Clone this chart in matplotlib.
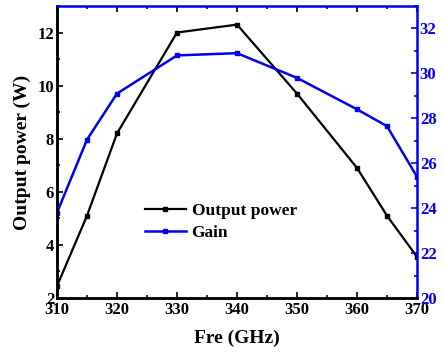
import matplotlib
matplotlib.use("Agg")
import matplotlib.pyplot as plt
from matplotlib.ticker import MultipleLocator

freq = [310, 315, 320, 330, 340, 350, 360, 365, 370]
output_power = [2.45, 5.1, 8.2, 12.0, 12.3, 9.7, 6.9, 5.1, 3.55]
gain = [23.8, 27.05, 29.1, 30.8, 30.9, 29.8, 28.4, 27.65, 25.4]

plt.rcParams['font.family'] = ['Liberation Serif', 'DejaVu Serif']
plt.rcParams['font.weight'] = 'bold'

BLUE = '#0000ee'

fig = plt.figure(figsize=(4.44, 3.56), dpi=100)
ax = fig.add_axes([57/444, 1-298/356, (417-57)/444, (298-6)/356])
ax2 = ax.twinx()

ax.plot(freq, output_power, color='black', lw=1.6, marker='s', ms=3.5,
        label='Output power')
ax2.plot(freq, gain, color=BLUE, lw=1.8, marker='s', ms=3.5, label='Gain')

ax.set_xlim(310, 370)
ax.set_ylim(2, 13)
ax2.set_ylim(20, 33)

ax.xaxis.set_major_locator(MultipleLocator(10))
ax.xaxis.set_minor_locator(MultipleLocator(5))
ax.yaxis.set_major_locator(MultipleLocator(2))
ax.yaxis.set_minor_locator(MultipleLocator(1))
ax2.yaxis.set_major_locator(MultipleLocator(2))
ax2.yaxis.set_minor_locator(MultipleLocator(1))

ax.tick_params(axis='both', which='both', direction='in', top=True,
               labelsize=12, width=1.2)
ax.tick_params(axis='x', pad=3)
ax.tick_params(axis='y', pad=2)
ax.tick_params(which='major', length=4)
ax.tick_params(which='minor', length=2.5)
ax2.tick_params(axis='y', which='both', direction='in', colors=BLUE,
                labelsize=12, width=1.2, pad=2)
ax2.tick_params(which='major', length=4)
ax2.tick_params(which='minor', length=2.5)

for s in ['left', 'bottom']:
    ax.spines[s].set_linewidth(1.8)
    ax2.spines[s].set_linewidth(1.8)
    ax2.spines[s].set_color('black')
for s in ['right', 'top']:
    ax2.spines[s].set_color(BLUE)
    ax2.spines[s].set_linewidth(1.8)
    ax.spines[s].set_visible(False)

for lbl in ax.get_xticklabels() + ax.get_yticklabels() + ax2.get_yticklabels():
    lbl.set_fontweight('bold')

ax.set_xlabel('Fre (GHz)', fontsize=14, fontweight='bold', labelpad=8)
ax.set_ylabel('Output power (W)', fontsize=14, fontweight='bold', labelpad=5)

h1, l1 = ax.get_legend_handles_labels()
h2, l2 = ax2.get_legend_handles_labels()
leg = ax2.legend(h1 + h2, l1 + l2, loc='center left',
                 bbox_to_anchor=(0.2, 1 - (222 - 6) / 292), frameon=False,
                 handlelength=2.4, handletextpad=0.3, labelspacing=0.35,
                 prop={'weight': 'bold', 'size': 12.5})

fig.savefig('out.png', dpi=100)
